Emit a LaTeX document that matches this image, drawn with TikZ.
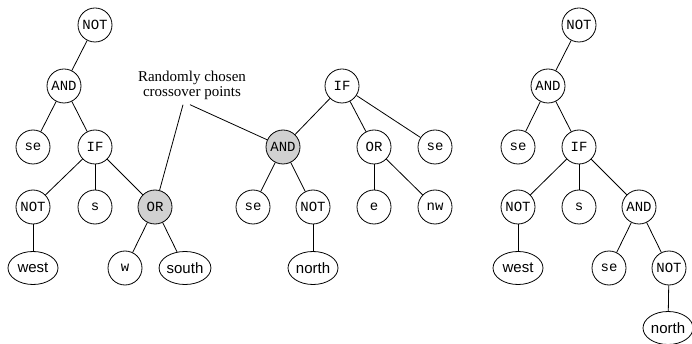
\documentclass[tikz,border=0pt]{standalone}
\usepackage{fontspec}
\setmainfont{Liberation Serif}
\setsansfont{Liberation Sans}
\setmonofont{Liberation Mono}
\usetikzlibrary{shapes.geometric}
\definecolor{picked}{gray}{0.82}
\tikzset{
  op/.style={circle,draw,minimum size=34pt,inner sep=0pt,font=\fontsize{14}{14}\selectfont\ttfamily},
  term/.style={ellipse,draw,minimum width=50pt,minimum height=33pt,inner sep=0pt,font=\fontsize{15}{15}\selectfont\sffamily},
  picknode/.style={fill=picked}
}

\begin{document}
\begin{tikzpicture}[x=1pt,y=-1pt,line width=0.8pt]
\useasboundingbox (0,0) rectangle (692,344);

% first parent
\node[op]          (not1)   at (95,25)   {NOT};
\node[op]          (and1)   at (64,86)   {AND};
\node[op]          (se1)    at (33,147)  {se};
\node[op]          (if1)    at (95,147)  {IF};
\node[op]          (nota1)  at (33,207)  {NOT};
\node[op]          (s1)     at (95,207)  {s};
\node[op,picknode] (or1)    at (155,207) {OR};
\node[term]        (west1)  at (33,268)  {west};
\node[op]          (w1)     at (125,268) {w};
\node[term]        (south1) at (185,268) {south};

% second parent
\node[op]          (if2)    at (342,86)  {IF};
\node[op,picknode] (and2)   at (283,147) {AND};
\node[op]          (or2)    at (374,147) {OR};
\node[op]          (se2)    at (435,147) {se};
\node[op]          (se2b)   at (253,207) {se};
\node[op]          (not2)   at (313,207) {NOT};
\node[op]          (e2)     at (374,207) {e};
\node[op]          (nw2)    at (435,207) {nw};
\node[term]        (north2) at (313,268) {north};

% offspring
\node[op]          (not3)   at (579,25)  {NOT};
\node[op]          (and3)   at (548,86)  {AND};
\node[op]          (se3)    at (518,147) {se};
\node[op]          (if3)    at (579,147) {IF};
\node[op]          (nota3)  at (518,207) {NOT};
\node[op]          (s3)     at (579,207) {s};
\node[op]          (and3b)  at (639,207) {AND};
\node[term]        (west3)  at (518,268) {west};
\node[op]          (se3b)   at (609,268) {se};
\node[op]          (not3b)  at (669,268) {NOT};
\node[term]        (north3) at (668,328) {north};

\node[align=center,inner sep=1pt,font=\fontsize{15}{15}\selectfont] (why) at (192,85) {Randomly chosen\\crossover points};

\draw (not1)  -- (and1);
\draw (and1)  -- (se1);
\draw (and1)  -- (if1);
\draw (if1)   -- (nota1);
\draw (if1)   -- (s1);
\draw (if1)   -- (or1);
\draw (nota1) -- (west1);
\draw (or1)   -- (w1);
\draw (or1)   -- (south1);

\draw (if2)   -- (and2);
\draw (if2)   -- (or2);
\draw (if2)   -- (se2);
\draw (and2)  -- (se2b);
\draw (and2)  -- (not2);
\draw (or2)   -- (e2);
\draw (or2)   -- (nw2);
\draw (not2)  -- (north2);

\draw (not3)  -- (and3);
\draw (and3)  -- (se3);
\draw (and3)  -- (if3);
\draw (if3)   -- (nota3);
\draw (if3)   -- (s3);
\draw (if3)   -- (and3b);
\draw (nota3) -- (west3);
\draw (and3b) -- (se3b);
\draw (and3b) -- (not3b);
\draw (not3b) -- (north3);

\draw ([xshift=-9pt,yshift=-4pt]why.south) -- (or1);
\draw ([xshift=-2pt,yshift=-4pt]why.south) -- (and2);

\end{tikzpicture}
\end{document}
